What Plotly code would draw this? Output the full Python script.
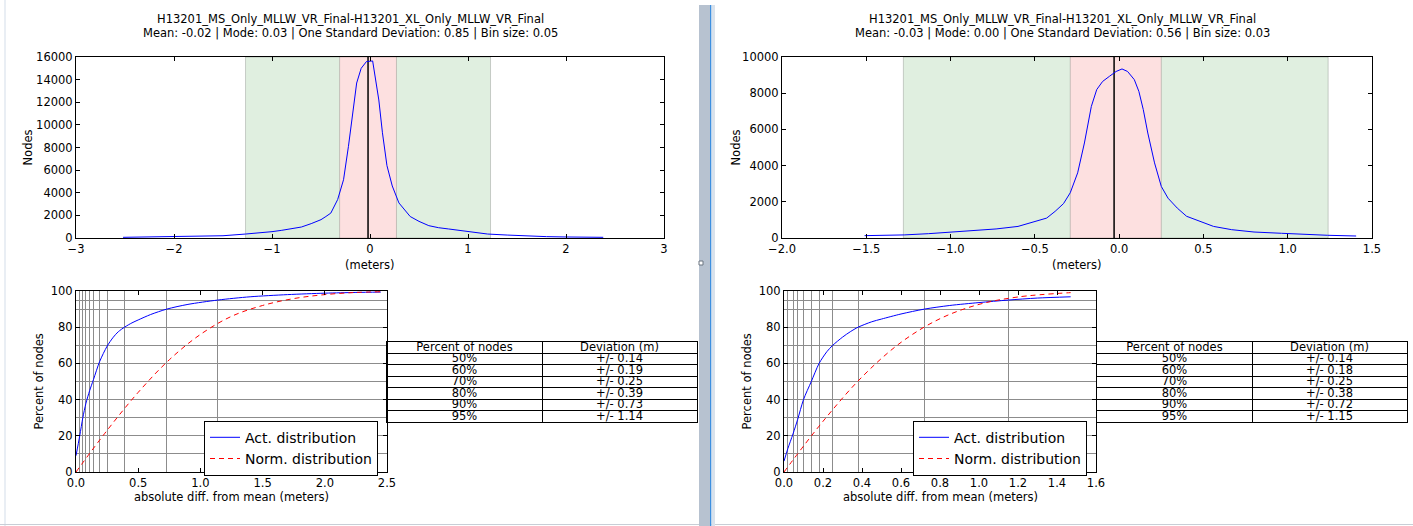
import plotly.graph_objects as go

W, H = 1413, 526
FONT = "DejaVu Sans"

# ---------------- data ----------------
title_main = "H13201_MS_Only_MLLW_VR_Final-H13201_XL_Only_MLLW_VR_Final"
stats_left = "Mean: -0.02 | Mode: 0.03 | One Standard Deviation: 0.85 | Bin size: 0.05"
stats_right = "Mean: -0.03 | Mode: 0.00 | One Standard Deviation: 0.56 | Bin size: 0.03"

# histogram of differences (node counts per bin)
hist_left_x = [-2.52, -2.3, -2.1, -2.0, -1.8, -1.6, -1.5, -1.27, -1.1, -1.0, -0.9, -0.8,
               -0.7, -0.6, -0.5, -0.45, -0.4, -0.33, -0.27, -0.22, -0.17, -0.136, -0.09,
               -0.055, -0.036, 0.027, 0.09, 0.127, 0.173, 0.227, 0.295, 0.41, 0.5, 0.6,
               0.7, 0.8, 0.9, 1.0, 1.2, 1.4, 1.6, 1.8, 2.0, 2.2, 2.38]
hist_left_y = [60, 80, 100, 120, 150, 180, 200, 350, 470, 560, 680, 850,
               970, 1270, 1620, 1900, 2200, 3400, 5150, 8100, 11650, 13700, 15000,
               15400, 15600, 15650, 12200, 9300, 6400, 4600, 3100, 1900, 1470, 1090,
               910, 800, 680, 530, 350, 260, 180, 120, 90, 60, 60]

hist_right_x = [-1.51, -1.275, -1.13, -1.0, -0.86, -0.73, -0.6, -0.515, -0.43, -0.38,
                -0.33, -0.29, -0.246, -0.206, -0.165, -0.133, -0.098, -0.058, -0.018,
                0.017, 0.05, 0.09, 0.117, 0.143, 0.17, 0.21, 0.25, 0.29, 0.345, 0.4,
                0.48, 0.56, 0.667, 0.8, 0.963, 1.097, 1.237, 1.406]
hist_right_y = [130, 170, 240, 330, 400, 500, 640, 870, 1100, 1470,
                1900, 2500, 3600, 5250, 7270, 8200, 8650, 8930, 9200,
                9340, 9200, 8750, 8100, 7100, 5800, 4150, 2850, 2200, 1650, 1200,
                920, 640, 460, 330, 260, 200, 150, 110]

mean_left, mean_right = -0.02, -0.03
inner_band_left, outer_band_left = [-0.31, 0.27], [-1.27, 1.23]
inner_band_right, outer_band_right = [-0.29, 0.25], [-1.28, 1.24]

# cumulative percent of nodes vs absolute difference from mean
act_left_x = [0, 0.03, 0.055, 0.08, 0.11, 0.14, 0.19, 0.25, 0.3, 0.34, 0.39, 0.45, 0.5,
              0.6, 0.73, 0.9, 1.14, 1.4, 1.7, 2.0, 2.25, 2.45]
act_left_y = [9, 20, 30, 38, 45, 51, 61, 69.5, 74.5, 77.5, 80, 82.4, 84,
              87, 90, 92.6, 95, 96.8, 98, 98.8, 99.2, 99.4]
norm_left_x = [0, 0.25, 0.5, 0.75, 1.0, 1.25, 1.5, 1.75, 2.0, 2.25, 2.45]
norm_left_y = [0, 23, 44, 62, 76, 86, 92, 95.8, 98, 99.2, 99.6]

act_right_x = [0, 0.02, 0.046, 0.07, 0.1, 0.14, 0.18, 0.22, 0.25, 0.3, 0.34, 0.38, 0.45,
               0.5, 0.6, 0.72, 0.85, 1.0, 1.15, 1.3, 1.47]
act_right_y = [6, 13, 21, 29, 40, 50, 60, 66.5, 70, 74.5, 77.5, 80, 83,
               84.5, 87.3, 90, 92, 93.6, 95, 96.1, 96.8]
norm_right_x = [0, 0.2, 0.4, 0.6, 0.8, 1.0, 1.2, 1.47]
norm_right_y = [0, 28, 52.5, 71.6, 84.7, 92.6, 96.7, 99.1]

table_header = ["Percent of nodes", "Deviation (m)"]
pct_levels = ["50%", "60%", "70%", "80%", "90%", "95%"]
dev_left = [0.14, 0.19, 0.25, 0.39, 0.73, 1.14]
dev_right = [0.14, 0.18, 0.25, 0.38, 0.72, 1.15]
low_dev_left = [0.03, 0.05, 0.08, 0.11]     # 10% .. 40%
low_dev_right = [0.02, 0.05, 0.07, 0.10]
pct_grid = [10, 20, 30, 40, 50, 60, 70, 80, 90, 95]


def px(x):
    return x / W


def py(y):
    return 1 - y / H


BLUE = "#0000ff"
RED = "#ff0000"
GRID = "#8c8c8c"
GREEN_FILL = "#e0efe0"
RED_FILL = "#fde0e0"
TICKFONT = dict(family=FONT, size=11.5, color="black")


def frame(**kw):
    base = dict(showline=True, linecolor="black", linewidth=1, mirror="ticks",
                ticks="inside", ticklen=4, tickwidth=1, tickcolor="black",
                showgrid=False, zeroline=False, tickfont=TICKFONT, fixedrange=True,
                automargin=False)
    base.update(kw)
    return base


fig = go.Figure()

# histograms
fig.add_trace(go.Scatter(x=hist_left_x, y=hist_left_y, mode="lines",
                         line=dict(color=BLUE, width=1), showlegend=False,
                         xaxis="x", yaxis="y"))
fig.add_trace(go.Scatter(x=hist_right_x, y=hist_right_y, mode="lines",
                         line=dict(color=BLUE, width=1), showlegend=False,
                         xaxis="x3", yaxis="y3"))

# cumulative curves
fig.add_trace(go.Scatter(x=act_left_x, y=act_left_y, mode="lines", name="Act. distribution",
                         line=dict(color=BLUE, width=1, shape="spline", smoothing=0.8),
                         xaxis="x2", yaxis="y2", legend="legend"))
fig.add_trace(go.Scatter(x=norm_left_x, y=norm_left_y, mode="lines", name="Norm. distribution",
                         line=dict(color=RED, width=1, dash="5px,4px", shape="spline"),
                         xaxis="x2", yaxis="y2", legend="legend"))
fig.add_trace(go.Scatter(x=act_right_x, y=act_right_y, mode="lines", name="Act. distribution",
                         line=dict(color=BLUE, width=1, shape="spline", smoothing=0.8),
                         xaxis="x4", yaxis="y4", legend="legend2"))
fig.add_trace(go.Scatter(x=norm_right_x, y=norm_right_y, mode="lines", name="Norm. distribution",
                         line=dict(color=RED, width=1, dash="5px,4px", shape="spline"),
                         xaxis="x4", yaxis="y4", legend="legend2"))

# deviation tables: text placed in cells of a hidden 2 x 7 grid axis pair
for xa, ya, devs in [("x5", "y5", dev_left), ("x6", "y6", dev_right)]:
    col_text = [table_header[0]] + pct_levels
    dev_text = [table_header[1]] + [f"+/- {d:.2f}" for d in devs]
    rows = [r + 0.55 for r in range(len(col_text))]
    fig.add_trace(go.Scatter(x=[0.5] * len(rows) + [1.5] * len(rows), y=rows + rows,
                             text=col_text + dev_text, mode="text",
                             textposition="middle center",
                             textfont=dict(family=FONT, size=11.5, color="black"),
                             showlegend=False, hoverinfo="skip", xaxis=xa, yaxis=ya))


def table_axes(x0, x1, anchor):
    xa = dict(domain=[px(x0), px(x1)], range=[0, 2], tickvals=[0, 1, 2], showgrid=True,
              gridcolor="black", gridwidth=1, showticklabels=False, ticks="", zeroline=False,
              showline=True, mirror=True, linecolor="black", linewidth=1, fixedrange=True,
              automargin=False, anchor=anchor)
    return xa


def table_yaxis(anchor):
    return dict(domain=[py(422.3), py(341.7)], range=[7, 0], tickvals=list(range(8)),
                showgrid=True, gridcolor="black", gridwidth=1, showticklabels=False,
                ticks="", zeroline=False, showline=True, mirror=True, linecolor="black",
                linewidth=1, fixedrange=True, automargin=False, anchor=anchor)


layout = dict(
    width=W, height=H, margin=dict(l=0, r=0, t=0, b=0, autoexpand=False),
    paper_bgcolor="white", plot_bgcolor="rgba(0,0,0,0)",
    font=dict(family=FONT, size=11.5, color="black"),
    xaxis=frame(domain=[px(76), px(664)], range=[-3, 3], tickvals=[-3, -2, -1, 0, 1, 2, 3],
                anchor="y"),
    yaxis=frame(domain=[py(238), py(57)], range=[0, 16000], dtick=2000, tickformat="d",
                anchor="x"),
    xaxis3=frame(domain=[px(782), px(1372)], range=[-2.0, 1.5], dtick=0.5, tick0=0,
                 tickformat=".1f", anchor="y3"),
    yaxis3=frame(domain=[py(238), py(57)], range=[0, 10000], dtick=2000, tickformat="d",
                 anchor="x3"),
    xaxis2=frame(domain=[px(76), px(387)], range=[0, 2.5], dtick=0.5, tick0=0,
                 tickformat=".1f", anchor="y2",
                 minor=dict(tickmode="array", tickvals=low_dev_left + dev_left,
                            showgrid=True, gridcolor=GRID, gridwidth=1, ticks="")),
    yaxis2=frame(domain=[py(472), py(291)], range=[0, 100], dtick=20, anchor="x2",
                 minor=dict(tickmode="array", tickvals=pct_grid,
                            showgrid=True, gridcolor=GRID, gridwidth=1, ticks="")),
    xaxis4=frame(domain=[px(784), px(1096)], range=[0, 1.6], dtick=0.2, tick0=0,
                 tickformat=".1f", anchor="y4",
                 minor=dict(tickmode="array", tickvals=low_dev_right + dev_right,
                            showgrid=True, gridcolor=GRID, gridwidth=1, ticks="")),
    yaxis4=frame(domain=[py(472), py(291)], range=[0, 100], dtick=20, anchor="x4",
                 minor=dict(tickmode="array", tickvals=pct_grid,
                            showgrid=True, gridcolor=GRID, gridwidth=1, ticks="")),
    xaxis5=table_axes(387, 697, "y5"),
    yaxis5=table_yaxis("x5"),
    xaxis6=table_axes(1097, 1407, "y6"),
    yaxis6=table_yaxis("x6"),
    legend=dict(x=px(204), y=py(420.7), xanchor="left", yanchor="top",
                bordercolor="black", borderwidth=1, bgcolor="white",
                font=dict(family=FONT, size=14, color="black"), tracegroupgap=0),
    legend2=dict(x=px(913), y=py(420.7), xanchor="left", yanchor="top",
                 bordercolor="black", borderwidth=1, bgcolor="white",
                 font=dict(family=FONT, size=14, color="black"), tracegroupgap=0),
)

shapes = []
# window chrome: left border, bottom border, splitter between the two windows
shapes.append(dict(type="line", xref="paper", yref="paper", x0=px(5), x1=px(5), y0=0, y1=1,
                   line=dict(color="#d3dde9", width=1)))
shapes.append(dict(type="line", xref="paper", yref="paper", x0=0, x1=1, y0=py(524.5), y1=py(524.5),
                   line=dict(color="#c8ced6", width=1)))
shapes.append(dict(type="rect", xref="paper", yref="paper", x0=px(699), x1=px(710), y0=0, y1=py(5),
                   fillcolor="#b7c2d0", line=dict(width=0)))
shapes.append(dict(type="rect", xref="paper", yref="paper", x0=px(710), x1=px(711.5), y0=0, y1=py(5),
                   fillcolor="#3d8fe0", line=dict(width=0)))
shapes.append(dict(type="rect", xref="paper", yref="paper", x0=px(711.5), x1=px(715), y0=0, y1=py(5),
                   fillcolor="#d9e2ec", line=dict(width=0)))
shapes.append(dict(type="rect", xref="paper", yref="paper", x0=px(699), x1=px(703), y0=py(265), y1=py(261),
                   fillcolor="white", line=dict(color="#6b7480", width=1)))

# shaded deviation bands and mean line on the histograms
for xa, ya, outer, inner, mean in [("x", "y", outer_band_left, inner_band_left, mean_left),
                                   ("x3", "y3", outer_band_right, inner_band_right, mean_right)]:
    shapes.append(dict(type="rect", xref=xa, yref=f"{ya} domain", x0=outer[0], x1=outer[1],
                       y0=0, y1=1, fillcolor=GREEN_FILL, layer="below",
                       line=dict(color="rgba(0,0,0,0.18)", width=1)))
    shapes.append(dict(type="rect", xref=xa, yref=f"{ya} domain", x0=inner[0], x1=inner[1],
                       y0=0, y1=1, fillcolor=RED_FILL, layer="below",
                       line=dict(color="rgba(0,0,0,0.18)", width=1)))
    shapes.append(dict(type="line", xref=xa, yref=f"{ya} domain", x0=mean, x1=mean,
                       y0=0, y1=1, layer="below", line=dict(color="black", width=1.5)))

layout["shapes"] = shapes

ann = []
for cx, stats in [(350, stats_left), (1062, stats_right)]:
    ann.append(dict(x=px(cx), y=py(19), text=title_main))
    ann.append(dict(x=px(cx), y=py(33), text=stats))
for ax_x0, ax_x1, bx0, bx1, ylab_top, ylab_bot in [(76, 664, 76, 387, 27, 38),
                                                   (782, 1372, 784, 1096, 735, 746)]:
    ann.append(dict(x=px((ax_x0 + ax_x1) / 2), y=py(265), text="(meters)"))
    ann.append(dict(x=px(ylab_top), y=py(147.5), text="Nodes", textangle=-90))
    ann.append(dict(x=px(ylab_bot), y=py(381.5), text="Percent of nodes", textangle=-90))
    ann.append(dict(x=px((bx0 + bx1) / 2), y=py(497), text="absolute diff. from mean (meters)"))
for a in ann:
    a.update(xref="paper", yref="paper", showarrow=False, xanchor="center", yanchor="middle",
             font=dict(family=FONT, size=11.5, color="black"))
layout["annotations"] = ann

fig.update_layout(**layout)
fig.write_html("out.html")
